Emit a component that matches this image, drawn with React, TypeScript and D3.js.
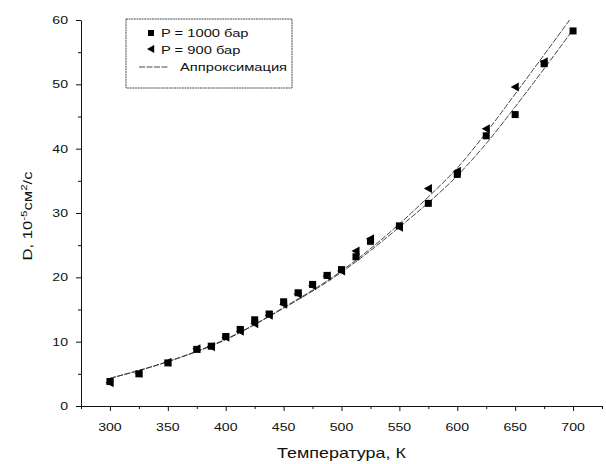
import React, { useRef, useEffect } from 'react';
import * as d3 from 'd3';

// Temperature, K
const temps1000 = [300, 325, 350, 375, 387.5, 400, 412.5, 425, 437.5, 450, 462.5, 475, 487.5, 500, 512.5, 525, 550, 575, 600, 625, 650, 675, 700];
const d1000 = [3.8, 5.0, 6.7, 8.8, 9.3, 10.8, 11.9, 13.4, 14.3, 16.2, 17.6, 18.9, 20.3, 21.2, 23.2, 25.6, 28.0, 31.5, 36.0, 42.0, 45.3, 53.2, 58.3];
const temps900 = [300, 325, 350, 375, 387.5, 400, 412.5, 425, 437.5, 450, 462.5, 475, 487.5, 500, 512.5, 525, 550, 575, 600, 625, 650, 675];
const d900 = [3.6, 5.1, 6.8, 8.9, 9.2, 10.7, 11.6, 12.8, 14.1, 15.8, 17.4, 18.7, 20.2, 21.0, 24.1, 26.0, 27.8, 33.8, 36.5, 43.1, 49.6, 53.5];

// approximation curves
const fitT1000 = [300, 350, 400, 450, 500, 550, 575, 600, 625, 650, 700];
const fit1000 = [4.3, 6.9, 10.4, 15.2, 20.8, 27.8, 31.6, 35.8, 40.8, 46.5, 58.5];
const fitT900 = [300, 350, 400, 450, 500, 550, 575, 600, 625, 650, 697];
const fit900 = [4.3, 6.9, 10.3, 15.3, 21.0, 28.3, 32.5, 37.0, 42.5, 48.5, 60.0];

const xTicks = [300, 350, 400, 450, 500, 550, 600, 650, 700];
const yTicks = [0, 10, 20, 30, 40, 50, 60];

const legendLabels = ['P = 1000 бар', 'P = 900 бар', 'Аппроксимация'];

const FONT = '"Liberation Sans", Arial, sans-serif';
const STRETCH = 1.28; // the scan is wider than tall

const App = () => {
  const svgRef = useRef(null);

  useEffect(() => {
    const svg = d3.select(svgRef.current);
    svg.selectAll('*').remove();

    const x = d3.scaleLinear().domain([275, 725]).range([81, 602]);
    const y = d3.scaleLinear().domain([0, 60]).range([406, 20]);

    const g = svg.append('g').attr('fill', '#111');

    // x axis
    const xAxis = g.append('g')
      .attr('transform', `translate(0,${y(0)})`)
      .call(d3.axisBottom(x).tickValues(d3.range(275, 726, 25)).tickSize(5).tickFormat(() => '').tickSizeOuter(0));
    xAxis.selectAll('.tick line').attr('y2', (d) => ((d - 300) % 50 === 0 ? 5 : 3));
    xAxis.selectAll('path, line').attr('stroke', '#111');

    // y axis
    const yAxis = g.append('g')
      .attr('transform', `translate(${x(275)},0)`)
      .call(d3.axisLeft(y).tickValues(d3.range(0, 61, 5)).tickSize(5).tickFormat(() => '').tickSizeOuter(0));
    yAxis.selectAll('.tick line').attr('x2', (d) => (d % 10 === 0 ? -5 : -3));
    yAxis.selectAll('path, line').attr('stroke', '#111');

    // tick labels
    g.selectAll('.xlab')
      .data(xTicks)
      .enter()
      .append('text')
      .attr('transform', (d) => `translate(${x(d)},${y(0) + 25}) scale(${STRETCH},1)`)
      .attr('text-anchor', 'middle')
      .attr('font-family', FONT)
      .attr('font-size', 11)
      .text((d) => d);

    g.selectAll('.ylab')
      .data(yTicks)
      .enter()
      .append('text')
      .attr('transform', (d) => `translate(${x(275) - 13},${y(d) + 4}) scale(${STRETCH},1)`)
      .attr('text-anchor', 'end')
      .attr('font-family', FONT)
      .attr('font-size', 11)
      .text((d) => d);

    // axis titles
    g.append('text')
      .attr('transform', `translate(${x(500)},${y(0) + 52}) scale(${STRETCH},1)`)
      .attr('text-anchor', 'middle')
      .attr('font-family', FONT)
      .attr('font-size', 14)
      .text('Температура, К');

    const yt = g.append('text')
      .attr('transform', `translate(32,216) rotate(-90) scale(${STRETCH},1)`)
      .attr('text-anchor', 'middle')
      .attr('font-family', FONT)
      .attr('font-size', 13);
    yt.append('tspan').text('D, 10');
    yt.append('tspan').attr('font-size', 9).attr('dy', -5).text('-5');
    yt.append('tspan').attr('dy', 5).text('см');
    yt.append('tspan').attr('font-size', 9).attr('dy', -5).text('2');
    yt.append('tspan').attr('dy', 5).text('/с');

    // approximation lines
    const line = d3.line().x((d) => x(d[0])).y((d) => y(d[1])).curve(d3.curveMonotoneX);
    [[fitT1000, fit1000], [fitT900, fit900]].forEach(([ts, ds]) => {
      g.append('path')
        .datum(ts.map((t, i) => [t, ds[i]]))
        .attr('fill', 'none')
        .attr('stroke', '#333')
        .attr('stroke-width', 0.9)
        .attr('stroke-dasharray', '6 1.5')
        .attr('d', line);
    });

    const tri = (cx, cy, s) => `M${cx - s},${cy} L${cx + s * 0.8},${cy - s} L${cx + s * 0.8},${cy + s} Z`;

    // 1000 bar squares
    g.selectAll('.sq')
      .data(temps1000.map((t, i) => [t, d1000[i]]))
      .enter()
      .append('rect')
      .attr('x', (d) => x(d[0]) - 3.5)
      .attr('y', (d) => y(d[1]) - 3.5)
      .attr('width', 7)
      .attr('height', 7)
      .attr('fill', '#000');

    // 900 bar triangles
    g.selectAll('.tr')
      .data(temps900.map((t, i) => [t, d900[i]]))
      .enter()
      .append('path')
      .attr('d', (d) => tri(x(d[0]), y(d[1]), 4.5))
      .attr('fill', '#000');

    // legend
    const lg = g.append('g');
    lg.append('rect')
      .attr('x', 126).attr('y', 19).attr('width', 166).attr('height', 69)
      .attr('fill', 'white').attr('stroke', '#222').attr('stroke-width', 0.8)
      .attr('stroke-dasharray', '2 0.6');
    lg.append('rect').attr('x', 148).attr('y', 30).attr('width', 6).attr('height', 6).attr('fill', '#000');
    lg.append('path').attr('d', tri(151, 49, 4)).attr('fill', '#000');
    lg.append('line')
      .attr('x1', 139).attr('x2', 169).attr('y1', 67).attr('y2', 67)
      .attr('stroke', '#333').attr('stroke-width', 0.9).attr('stroke-dasharray', '6 1.5');
    [[161, 37], [161, 54], [180, 71]].forEach(([lx, ly], i) => {
      lg.append('text')
        .attr('transform', `translate(${lx},${ly}) scale(${STRETCH},1)`)
        .attr('font-family', FONT)
        .attr('font-size', 11.5)
        .text(legendLabels[i]);
    });
  }, []);

  return (
    <svg ref={svgRef} width={606} height={464} style={{ position: 'absolute', left: 0, top: 0, background: 'white' }} />
  );
};

export default App;
